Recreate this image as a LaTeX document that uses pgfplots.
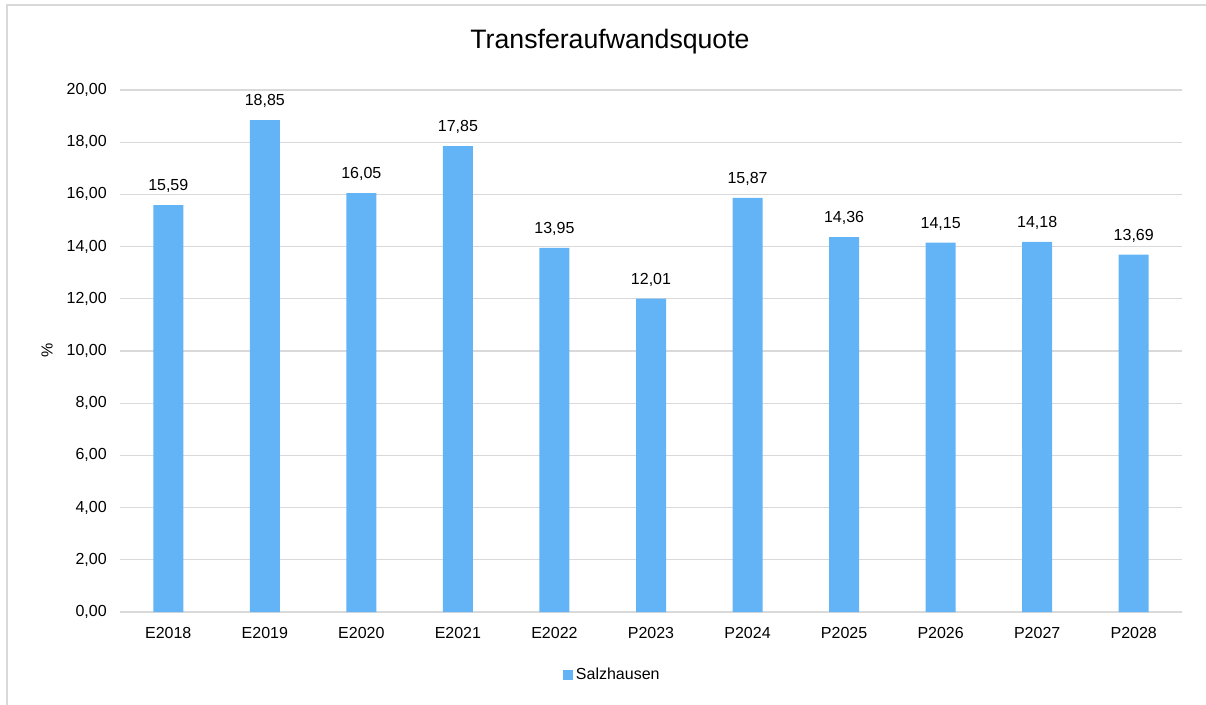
\documentclass[border=0pt]{standalone}
\usepackage{fontspec}
\setmainfont{Liberation Sans}
\usepackage{pgfplots}
\pgfplotsset{compat=1.18}
\definecolor{barblue}{RGB}{99,180,246}
\definecolor{gridgray}{RGB}{217,217,217}
\begin{document}
\begin{tikzpicture}
% whole chart area, 1px = 0.75pt, axis lower left at (0,0)
\path[use as bounding box] (-90pt,-69pt) rectangle (814.5pt,459pt);
\draw[gridgray, line width=1.2pt] (-84.75pt,-75pt) -- (-84.75pt,455.25pt) -- (820pt,455.25pt);
\begin{axis}[
    at={(0,0)}, anchor=south west,
    scale only axis,
    width=796.5pt, height=391.5pt,
    ybar, bar width=22.5pt,
    ymin=0, ymax=20, ytick distance=2,
    xmin=-0.5, xmax=10.5,
    xtick=data,
    xticklabels={E2018,E2019,E2020,E2021,E2022,P2023,P2024,P2025,P2026,P2027,P2028},
    axis line style={draw=none},
    axis x line*=bottom,
    ymajorgrids=true,
    grid style={gridgray, line width=0.9pt},
    major tick length=0pt,
    tick label style={font=\fontsize{12}{14}\selectfont},
    /pgf/number format/assume math mode=true,
    yticklabel style={inner sep=0pt, xshift=-9.75pt,
        /pgf/number format/fixed, /pgf/number format/fixed zerofill,
        /pgf/number format/precision=2, /pgf/number format/use comma},
    xticklabel style={inner sep=0pt, yshift=-11.25pt},
    ylabel={\%},
    ylabel style={at={(axis description cs:-0.0687,0.502)}, anchor=center, font=\fontsize{12}{14}\selectfont},
    nodes near coords,
    nodes near coords style={font=\fontsize{12}{14}\selectfont, anchor=south, inner sep=0pt, yshift=9pt,
        /pgf/number format/fixed, /pgf/number format/fixed zerofill,
        /pgf/number format/precision=2, /pgf/number format/use comma},
    legend style={at={(axis description cs:0.464,-0.121)}, anchor=center, draw=none,
        font=\fontsize{12}{14}\selectfont, inner sep=0pt},
    legend image code/.code={\fill[barblue] (0pt,-3.75pt) rectangle (7.5pt,3.75pt);},
    legend cell align=left,
]
\draw[gridgray, line width=0.9pt] (axis cs:-0.5,0) -- (axis cs:10.5,0);
\addplot[fill=barblue, draw=none] coordinates {
    (0,15.59) (1,18.85) (2,16.05) (3,17.85) (4,13.95) (5,12.01)
    (6,15.87) (7,14.36) (8,14.15) (9,14.18) (10,13.69)
};
\addlegendentry{Salzhausen}
\end{axis}
\node[font=\fontsize{20}{24}\selectfont] at (367.5pt,427.5pt) {Transferaufwandsquote};
\end{tikzpicture}
\end{document}
